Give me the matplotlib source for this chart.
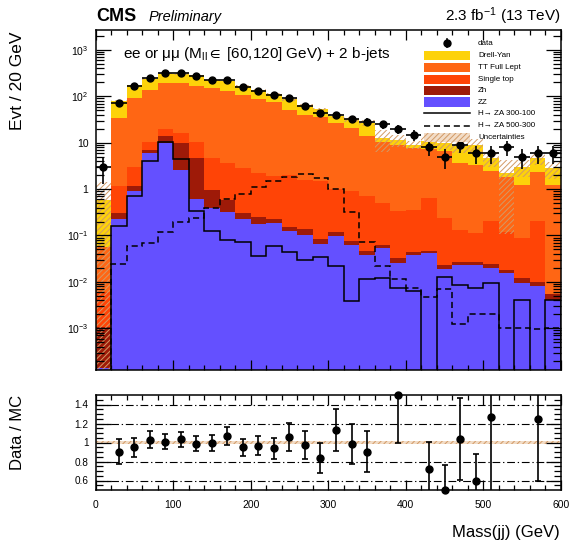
import numpy as np
import matplotlib
matplotlib.use("Agg")
import matplotlib.pyplot as plt
from matplotlib.patches import Rectangle
from matplotlib.lines import Line2D
from matplotlib.ticker import MultipleLocator, FixedLocator, FuncFormatter, NullFormatter

plt.rcParams['font.family'] = ['Liberation Sans', 'DejaVu Sans']
plt.rcParams['mathtext.fontset'] = 'custom'
plt.rcParams['mathtext.rm'] = 'Liberation Sans'
plt.rcParams['mathtext.it'] = 'Liberation Sans:italic'
plt.rcParams['mathtext.bf'] = 'Liberation Sans:bold'
plt.rcParams['mathtext.fallback'] = 'stix'
plt.rcParams['hatch.linewidth'] = 0.7

# --- binning: m(jj) in 20 GeV bins from 0 to 600 GeV
edges = np.arange(0, 620, 20)
centers = 0.5 * (edges[:-1] + edges[1:])

# --- observed events per bin
data = [3, 73, 165, 245, 314, 314, 280, 222, 226, 160, 131, 107, 91, 62, 44,
        40, 32, 28, 25, 20, 15, 8, 5, 9, 6, 6, 8, 5, 6, 6]

# --- background expectations per bin (stacked bottom to top: ZZ, Zh, single top, ttbar, DY)
zz = [1.4e-4, 0.224, 0.93, 6.1, 10.1, 2.6, 0.62, 0.40, 0.327, 0.224, 0.18, 0.184,
      0.128, 0.105, 0.066, 0.098, 0.061, 0.038, 0.053, 0.025, 0.038, 0.042, 0.019,
      0.023, 0.023, 0.020, 0.0154, 0.0093, 0.0082, 0.0041]
zh = [9.3e-4, 0.076, 0.24, 0.9, 3.9, 7.1, 4.0, 0.55, 0.26, 0.076, 0.075, 0.040,
      0.027, 0.032, 0.019, 0.018, 0.016, 0.009, 0.010, 0.007, 0.007, 0.005, 0.004,
      0.004, 0.004, 0.004, 0.0026, 0.0027, 0.0018, 0.0014]
single_top = [0.005, 0.87, 1.88, 3.6, 5.5, 6.3, 6.0, 3.85, 3.0, 2.5, 1.95, 1.68,
              1.85, 1.46, 1.41, 0.88, 0.82, 0.65, 0.44, 0.31, 0.315, 0.59, 0.213,
              0.105, 0.085, 0.186, 0.102, 0.076, 0.20, 0.0]
tt_full_lept = [0.051, 32.8, 89, 124, 170, 174, 156, 145, 126, 102, 84, 73, 48,
                38.4, 33.5, 26, 19.6, 13.3, 10, 8.66, 7.24, 6.86, 6.26, 3.47, 3.19,
                2.19, 1.68, 1.14, 2.09, 1.22]
drell_yan = [0.53, 47, 82, 103, 121, 113, 117, 74, 81, 64, 49, 39, 36, 23.5, 17.6,
             10, 12, 13, 2, 2.5, 1.4, 3.6, 3.4, 5.1, 5.7, 2.3, 0.4, 1.77, 2.4, 1.57]

# --- relative uncertainty on the total background
unc_rel = [1.45, 0.04, 0.03, 0.03, 0.03, 0.03, 0.03, 0.04, 0.04, 0.05, 0.05, 0.05,
           0.06, 0.07, 0.08, 0.10, 0.12, 0.15, 0.50, 0.30, 0.20, 0.30, 0.30, 0.30,
           0.35, 0.35, 0.95, 0.40, 0.30, 0.40]

# --- signal hypotheses
sig_300_100 = [0, 0.16, 0.71, 4.1, 10.2, 4.4, 0.344, 0.128, 0.078, 0.072, 0.036,
               0.058, 0.044, 0.029, 0.034, 0.0225, 0.0039, 0.0118, 0.0124, 0.0073,
               0.0065, 0, 0.013, 0.0086, 0.0073, 0.0093, 0, 0.0041, 0, 0.0040]
sig_500_300 = [0, 0.024, 0.058, 0.070, 0.116, 0.193, 0.243, 0.40, 0.615, 0.79, 1.10,
               1.50, 1.86, 2.13, 1.72, 1.0, 0.315, 0.071, 0.022, 0.0115, 0.0073,
               0.0048, 0.007, 0.00124, 0.00198, 0.00198, 0.00103, 0.00103, 0.00097,
               0.00103]

# --- data / MC ratio and its error (nan: outside the displayed range)
nan = np.nan
ratio = [nan, 0.905, 0.95, 1.03, 1.01, 1.035, 0.986, 0.993, 1.07, 0.948, 0.968, 0.94,
         1.057, 0.976, 0.836, 1.134, 0.986, 0.905, nan, 1.50, nan, 0.723, 0.495,
         1.035, 0.60, 1.265, nan, nan, 1.246, nan]
ratio_err = [nan, 0.135, 0.10, 0.088, 0.075, 0.08, 0.08, 0.085, 0.096, 0.09, 0.10,
             0.11, 0.144, 0.15, 0.155, 0.22, 0.21, 0.22, nan, 0.51, nan, 0.28, 0.27,
             0.43, 0.28, 0.80, nan, nan, 0.65, nan]

# --- style
c_dy, c_tt, c_st, c_zh, c_zz = '#FDD20A', '#FF6614', '#FF4406', '#9E1A08', '#6450FF'
c_hatch = '#D29A66'

W, H = 570, 547
fig = plt.figure(figsize=(W / 100, H / 100), dpi=100)


def rect(l, t, r, b):
    return [l / W, 1 - b / H, (r - l) / W, (b - t) / H]


ax = fig.add_axes(rect(95.5, 30, 561, 370))
axr = fig.add_axes(rect(95.5, 395, 561, 490))

# stacked backgrounds
floor = 1e-6
base = np.full(len(centers), floor)
for vals, col in [(zz, c_zz), (zh, c_zh), (single_top, c_st),
                  (tt_full_lept, c_tt), (drell_yan, c_dy)]:
    top = base + np.asarray(vals)
    ax.stairs(top, edges, baseline=base, fill=True, facecolor=col, edgecolor='none', lw=0)
    base = top
total = base

# uncertainty band
lo = np.clip(total * (1 - np.asarray(unc_rel)), floor, None)
hi = total * (1 + np.asarray(unc_rel))
ax.bar(centers, hi - lo, width=20, bottom=lo, facecolor='none', edgecolor=c_hatch,
       hatch='//////', linewidth=0)

# signals
ax.stairs(np.clip(sig_300_100, floor, None), edges, color='black', lw=1.1)
ax.stairs(np.clip(sig_500_300, floor, None), edges, color='black', lw=1.1,
          linestyle=(0, (4, 2.5)))

# data
d = np.asarray(data, float)
ax.errorbar(centers, d, yerr=np.sqrt(d), xerr=10, fmt='o', color='black', ms=5,
            elinewidth=1.2, capsize=0, zorder=5)

ax.set_xlim(0, 600)
ax.set_yscale('log')
ax.set_ylim(10 ** -3.9, 10 ** 3.43)


def log_label(v, pos):
    e = int(round(np.log10(v)))
    if e == 0:
        return '1'
    if e == 1:
        return '10'
    return r'$10^{%d}$' % e


decades = np.arange(-3, 4)
ax.yaxis.set_major_locator(FixedLocator(10.0 ** decades))
minor_y = [m * 10.0 ** e for e in range(-4, 4) for m in range(2, 10)
           if 10 ** -3.9 <= m * 10.0 ** e <= 10 ** 3.43]
ax.yaxis.set_minor_locator(FixedLocator(minor_y))
ax.yaxis.set_major_formatter(FuncFormatter(log_label))
ax.yaxis.set_minor_formatter(NullFormatter())
ax.xaxis.set_major_locator(MultipleLocator(100))
ax.xaxis.set_minor_locator(MultipleLocator(20))
ax.xaxis.set_major_formatter(NullFormatter())
ax.tick_params(axis='x', which='major', direction='in', top=True, bottom=True, length=7, width=0.9)
ax.tick_params(axis='x', which='minor', direction='in', top=True, bottom=True, length=3.6, width=0.9)
ax.tick_params(axis='y', which='major', direction='in', left=True, right=True, length=10.5, width=0.9,
               labelsize=7.5, pad=5)
ax.tick_params(axis='y', which='minor', direction='in', left=True, right=True, length=5.5, width=0.9)
for s in ax.spines.values():
    s.set_linewidth(1.1)

# ratio panel
axr.fill_between([0, 600], 0.98, 1.02, facecolor='#F2DCC6', edgecolor=c_hatch,
                 hatch='//////', lw=0)
for yv in [0.6, 0.8, 1.2, 1.4]:
    axr.axhline(yv, color='black', lw=0.8, linestyle=(0, (7, 2.5, 1.2, 2.5)))
r = np.asarray(ratio)
re = np.asarray(ratio_err)
axr.errorbar(centers, r, yerr=re, fmt='none', ecolor='black', elinewidth=1.2,
             capsize=2, capthick=1.2, zorder=5)
axr.plot(centers, r, 'o', color='black', ms=5, zorder=6, clip_on=False)
axr.set_xlim(0, 600)
axr.set_ylim(0.5, 1.5)
axr.xaxis.set_major_locator(MultipleLocator(100))
axr.xaxis.set_minor_locator(MultipleLocator(20))
axr.yaxis.set_major_locator(FixedLocator([0.6, 0.8, 1.0, 1.2, 1.4]))
axr.yaxis.set_minor_locator(FixedLocator(np.round(np.arange(0.55, 1.5, 0.05), 2)))
axr.yaxis.set_major_formatter(FuncFormatter(lambda v, p: '1' if abs(v - 1) < 1e-6 else '%g' % v))
axr.yaxis.set_minor_formatter(NullFormatter())
axr.tick_params(axis='x', which='major', direction='in', top=True, bottom=True, length=7, width=0.9,
                labelsize=7.5, pad=7)
axr.tick_params(axis='x', which='minor', direction='in', top=True, bottom=True, length=3.6, width=0.9)
axr.tick_params(axis='y', which='major', direction='in', left=True, right=True, length=10.5, width=0.9,
                labelsize=7.2, pad=5)
axr.tick_params(axis='y', which='minor', direction='in', left=True, right=True, length=5, width=0.9)
for s in axr.spines.values():
    s.set_linewidth(1.1)


def fx(px):
    return px / W


def fy(py):
    return 1 - py / H


# titles and axis labels
fig.text(fx(96), fy(20.7), 'CMS', fontsize=13, fontweight='bold', va='baseline', ha='left')
fig.text(fx(149), fy(20.7), 'Preliminary', fontsize=10.5, style='italic', va='baseline', ha='left')
fig.text(fx(561), fy(20.7), r'2.3 fb$^{-1}$ (13 TeV)', fontsize=11, va='baseline', ha='right')
fig.text(fx(123), fy(58.3), r'ee or μμ (M$_{\rm ll}\in$ [60,120] GeV) + 2 b-jets',
         fontsize=11, va='baseline', ha='left')
fig.text(fx(18), fy(31), 'Evt / 20 GeV', fontsize=12.5, rotation=90, ha='center', va='top')
fig.text(fx(18), fy(395), 'Data / MC', fontsize=12, rotation=90, ha='center', va='top')
fig.text(fx(560), fy(532), 'Mass(jj) (GeV)', fontsize=12, ha='right', va='center')

# legend
leg_fs = 5.8
box_l, box_r, txt_x = 424.3, 470, 478
rows = [
    ('data', 'marker', 43.3, None),
    ('Drell-Yan', 'box', 55.3, c_dy),
    ('TT Full Lept', 'box', 67.2, c_tt),
    ('Single top', 'box', 79.5, c_st),
    ('Zh', 'box', 90.5, c_zh),
    ('ZZ', 'box', 102.0, c_zz),
    ('H→ ZA 300-100', 'solid', 113.3, None),
    ('H→ ZA 500-300', 'dashed', 125.7, None),
    ('Uncertainties', 'hatch', 137.2, None),
]
for label, kind, yc, col in rows:
    if kind == 'marker':
        xm = 0.5 * (box_l + box_r)
        fig.add_artist(Line2D([fx(xm)], [fy(yc)], marker='o', color='black', ms=5))
        fig.add_artist(Line2D([fx(xm), fx(xm)], [fy(yc - 4), fy(yc + 4)], color='black', lw=1.2))
    elif kind == 'box':
        fig.add_artist(Rectangle((fx(box_l), fy(yc + 4.6)), fx(box_r) - fx(box_l),
                                 fy(yc - 4.6) - fy(yc + 4.6), facecolor=col, edgecolor='none',
                                 transform=fig.transFigure))
    elif kind == 'hatch':
        fig.add_artist(Rectangle((fx(box_l), fy(yc + 4.6)), fx(box_r) - fx(box_l),
                                 fy(yc - 4.6) - fy(yc + 4.6), facecolor='#F2DCC6', edgecolor=c_hatch,
                                 hatch='//////', lw=0, transform=fig.transFigure))
    else:
        ls = '-' if kind == 'solid' else (0, (4, 2.5))
        fig.add_artist(Line2D([fx(box_l), fx(box_r)], [fy(yc), fy(yc)], color='black', lw=1.1,
                              linestyle=ls))
    fig.text(fx(txt_x), fy(yc), label, fontsize=leg_fs, va='center', ha='left')

fig.savefig('out.png', dpi=100)
